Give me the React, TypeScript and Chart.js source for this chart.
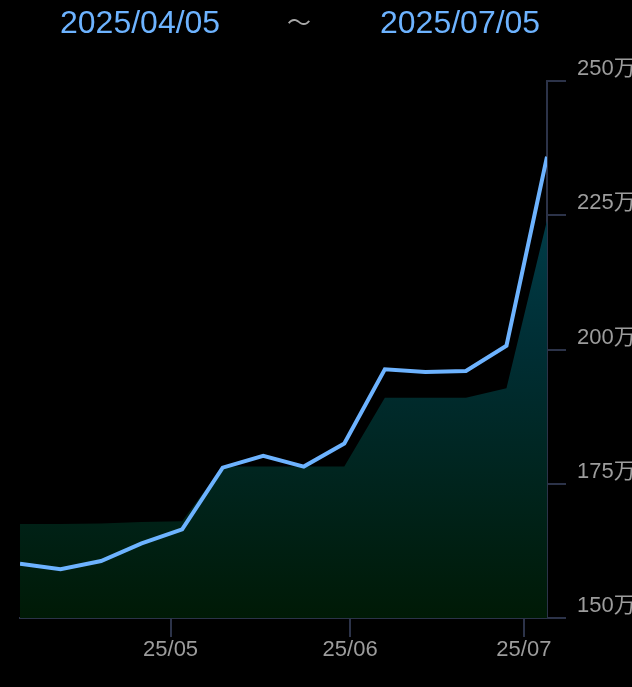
import React, { useEffect, useRef } from "react";
import { Chart, registerables } from "chart.js";

Chart.register(...registerables);

const START_LABEL = "2025/04/05";
const END_LABEL = "2025/07/05";
const START_DATE = "2025-04-05";
const END_DATE = "2025-07-05";

const DATES = [
  "2025-04-05", "2025-04-12", "2025-04-19", "2025-04-26", "2025-05-03",
  "2025-05-10", "2025-05-17", "2025-05-24", "2025-05-31", "2025-06-07",
  "2025-06-14", "2025-06-21", "2025-06-28", "2025-07-05",
];
// values in 万
const LINE_VALUES = [160.1, 159.1, 160.6, 163.9, 166.5, 178.0, 180.2, 178.2, 182.5, 196.3, 195.8, 196.0, 200.7, 235.9];
const AREA_VALUES = [167.5, 167.5, 167.6, 167.9, 168.0, 178.2, 178.2, 178.2, 178.2, 191.0, 191.0, 191.0, 192.8, 224.0];

const X_TICK_DATES = ["2025-05-01", "2025-06-01", "2025-07-01"];
const X_TICK_LABELS = ["25/05", "25/06", "25/07"];
const Y_TICKS = [150, 175, 200, 225, 250];
const Y_UNIT = "万";

const dayOf = (s: string) => {
  const [y, m, d] = s.split("-").map(Number);
  return Math.round((Date.UTC(y, m - 1, d) - Date.UTC(2025, 3, 5)) / 86400000);
};

const AXIS_COLOR = "#2c3349";
const LABEL_COLOR = "#9c9c9c";
const FONT = "'Liberation Sans', Arial, 'Noto Sans CJK SC', sans-serif";

export default function App() {
  const ref = useRef<HTMLCanvasElement | null>(null);

  useEffect(() => {
    document.body.style.margin = "0";
    document.body.style.background = "#000";
    document.body.style.overflow = "hidden";
    const canvas = ref.current!;
    const xTickDays = X_TICK_DATES.map(dayOf);
    const chart = new Chart(canvas, {
      type: "line",
      data: {
        datasets: [
          {
            data: DATES.map((d, i) => ({ x: dayOf(d), y: LINE_VALUES[i] })),
            borderColor: "#6db3ff",
            borderWidth: 4,
            pointRadius: 0,
            fill: false,
            tension: 0,
          },
          {
            data: DATES.map((d, i) => ({ x: dayOf(d), y: AREA_VALUES[i] })),
            borderWidth: 0,
            borderColor: "rgba(0,0,0,0)",
            pointRadius: 0,
            fill: "start",
            tension: 0,
            backgroundColor: (ctx: any) => {
              const area = ctx.chart.chartArea;
              if (!area) return "rgba(0,40,30,1)";
              const g = ctx.chart.ctx.createLinearGradient(0, area.top, 0, area.bottom);
              g.addColorStop(0, "rgb(0,74,92)");
              g.addColorStop(0.5, "rgb(0,46,52)");
              g.addColorStop(1, "rgb(0,26,6)");
              return g;
            },
          },
        ],
      },
      options: {
        animation: false,
        responsive: false,
        maintainAspectRatio: false,
        layout: { padding: { left: 20, top: 81, right: 0, bottom: 0 } },
        plugins: { legend: { display: false }, tooltip: { enabled: false }, title: { display: false } },
        scales: {
          x: {
            type: "linear",
            min: dayOf(START_DATE),
            max: dayOf(END_DATE),
            afterBuildTicks: (scale: any) => {
              scale.ticks = xTickDays.map((v) => ({ value: v }));
            },
            afterFit: (scale: any) => {
              scale.height = 69;
              scale.paddingLeft = 0;
              scale.paddingRight = 0;
            },
            ticks: {
              autoSkip: false,
              maxRotation: 0,
              color: LABEL_COLOR,
              font: { family: FONT, size: 22 },
              padding: 0,
              callback: (v: any) => {
                const i = xTickDays.indexOf(Number(v));
                return i >= 0 ? X_TICK_LABELS[i] : "";
              },
            },
            grid: { drawOnChartArea: false, drawTicks: true, tickLength: 19, color: AXIS_COLOR, lineWidth: 2 },
            border: { display: true, color: AXIS_COLOR, width: 2 },
          },
          y: {
            position: "right",
            min: Y_TICKS[0],
            max: Y_TICKS[Y_TICKS.length - 1],
            afterBuildTicks: (scale: any) => {
              scale.ticks = Y_TICKS.map((v) => ({ value: v }));
            },
            afterFit: (scale: any) => {
              scale.width = 85;
              scale.paddingTop = 0;
              scale.paddingBottom = 0;
            },
            ticks: {
              color: LABEL_COLOR,
              font: { family: FONT, size: 22 },
              padding: 11,
              labelOffset: -12,
              callback: (v: any) => `${v}${Y_UNIT}`,
            },
            grid: { drawOnChartArea: false, drawTicks: true, tickLength: 19, color: AXIS_COLOR, lineWidth: 2 },
            border: { display: true, color: AXIS_COLOR, width: 2 },
          },
        },
      },
    });
    return () => chart.destroy();
  }, []);

  const dateStyle: React.CSSProperties = {
    position: "absolute",
    top: 6,
    fontFamily: FONT,
    fontSize: 32,
    lineHeight: "32px",
    color: "#6db3ff",
    whiteSpace: "nowrap",
  };

  return (
    <div style={{ position: "relative", width: 632, height: 687, background: "#000", overflow: "hidden" }}>
      <canvas ref={ref} width={632} height={687} style={{ position: "absolute", left: 0, top: 0, width: 632, height: 687 }} />
      <div style={{ ...dateStyle, left: 60 }}>{START_LABEL}</div>
      <div
        style={{
          position: "absolute",
          left: 287,
          top: 9,
          fontFamily: "'Noto Sans CJK SC', sans-serif",
          fontSize: 24,
          lineHeight: "24px",
          color: "#a8a8a8",
          whiteSpace: "nowrap",
        }}
      >
        ～
      </div>
      <div style={{ ...dateStyle, left: 380 }}>{END_LABEL}</div>
    </div>
  );
}
